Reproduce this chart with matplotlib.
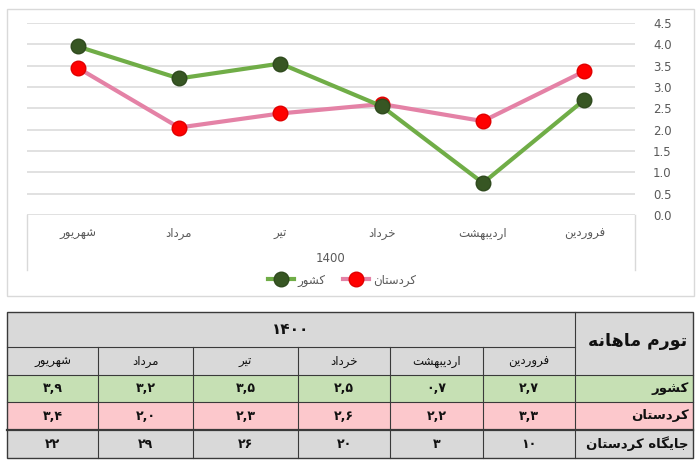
import matplotlib
matplotlib.use("Agg")
import matplotlib.pyplot as plt
from matplotlib.patches import Rectangle
from matplotlib.lines import Line2D

# Datos: meses de 1400 (de izquierda a derecha como en el grafico)
meses = ["شهریور", "مرداد", "تیر", "خرداد", "اردیبهشت", "فروردین"]
keshvar = [3.95, 3.2, 3.55, 2.55, 0.75, 2.7]
kordestan = [3.45, 2.05, 2.38, 2.6, 2.2, 3.37]

# Valores de la tabla (tal como aparecen)
tabla_keshvar = ["۳,۹", "۳,۲", "۳,۵", "۲,۵", "۰,۷", "۲,۷"]
tabla_kordestan = ["۳,۴", "۲,۰", "۲,۳", "۲,۶", "۲,۲", "۳,۳"]
tabla_jaygah = ["۲۲", "۲۹", "۲۶", "۲۰", "۳", "۱۰"]

anio = "1400"
anio_fa = "۱۴۰۰"
nombre_keshvar = "کشور"
nombre_kordestan = "کردستان"
nombre_jaygah = "جایگاه کردستان"
titulo_tabla = "تورم ماهانه"

# Formas de presentacion arabes: aislada, final, inicial, medial
FORMAS = {
    "ا": ("\uFE8D", "\uFE8E", None, None),
    "ب": ("\uFE8F", "\uFE90", "\uFE91", "\uFE92"),
    "ت": ("\uFE95", "\uFE96", "\uFE97", "\uFE98"),
    "ج": ("\uFE9D", "\uFE9E", "\uFE9F", "\uFEA0"),
    "خ": ("\uFEA5", "\uFEA6", "\uFEA7", "\uFEA8"),
    "د": ("\uFEA9", "\uFEAA", None, None),
    "ر": ("\uFEAD", "\uFEAE", None, None),
    "س": ("\uFEB1", "\uFEB2", "\uFEB3", "\uFEB4"),
    "ش": ("\uFEB5", "\uFEB6", "\uFEB7", "\uFEB8"),
    "ف": ("\uFED1", "\uFED2", "\uFED3", "\uFED4"),
    "م": ("\uFEE1", "\uFEE2", "\uFEE3", "\uFEE4"),
    "ن": ("\uFEE5", "\uFEE6", "\uFEE7", "\uFEE8"),
    "ه": ("\uFEE9", "\uFEEA", "\uFEEB", "\uFEEC"),
    "و": ("\uFEED", "\uFEEE", None, None),
    "ک": ("\uFB8E", "\uFB8F", "\uFB90", "\uFB91"),
    "گ": ("\uFB92", "\uFB93", "\uFB94", "\uFB95"),
    "ی": ("\uFBFC", "\uFBFD", "\uFBFE", "\uFBFF"),
}


def une_siguiente(c):
    return c in FORMAS and FORMAS[c][2] is not None


def fa(texto):
    """Dar forma al texto persa y ponerlo de derecha a izquierda"""
    salida = []
    n = len(texto)
    for i, c in enumerate(texto):
        if c not in FORMAS:
            salida.append(c)
            continue
        prev = texto[i - 1] if i > 0 else ""
        sig = texto[i + 1] if i < n - 1 else ""
        con_prev = une_siguiente(prev)
        con_sig = une_siguiente(c) and sig in FORMAS
        iso, fin, ini, med = FORMAS[c]
        if con_prev and con_sig:
            salida.append(med)
        elif con_prev:
            salida.append(fin)
        elif con_sig:
            salida.append(ini)
        else:
            salida.append(iso)
    return "".join(reversed(salida))


plt.rcParams["font.family"] = ["DejaVu Sans"]
gris_texto = "#595959"

fig = plt.figure(figsize=(7, 4.66), dpi=100)

# Capa de fondo en pixeles para marco y tabla
fondo = fig.add_axes([0, 0, 1, 1])
fondo.set_xlim(0, 700)
fondo.set_ylim(466, 0)
fondo.axis("off")

# Marco del grafico
fondo.add_patch(Rectangle((7, 9), 687, 287, fill=False, edgecolor="#d9d9d9", lw=1))

# Grafico de lineas
ax = fig.add_axes([27 / 700, 1 - 215 / 466, (635 - 27) / 700, (215 - 23) / 466])
x = list(range(len(meses)))
ax.plot(x, kordestan, color="#e482a6", lw=3, marker="o", markersize=10.5,
        markerfacecolor="#ff0000", markeredgecolor="#e00000", zorder=3)
ax.plot(x, keshvar, color="#70ad47", lw=3, marker="o", markersize=10.5,
        markerfacecolor="#375623", markeredgecolor="#2f4a1e", zorder=4)
ax.set_xlim(-0.5, len(meses) - 0.5)
ax.set_ylim(0, 4.5)
ax.set_yticks([i * 0.5 for i in range(10)])
ax.set_yticklabels([f"{i * 0.5:.1f}" for i in range(10)])
ax.yaxis.tick_right()
ax.tick_params(axis="y", length=0, pad=13, labelsize=8.5, labelcolor=gris_texto)
ax.set_xticks(x)
ax.set_xticklabels([fa(m) for m in meses])
ax.tick_params(axis="x", length=0, pad=9, labelsize=8.5, labelcolor=gris_texto)
ax.grid(axis="y", color="#dcdcdc", lw=1.2)
ax.set_axisbelow(True)
for s in ax.spines.values():
    s.set_visible(False)
ax.set_xlabel(anio, fontsize=8.5, color=gris_texto, labelpad=8)

# Caja del eje de categorias
for xb in (0, 1):
    ax.add_line(Line2D([xb, xb], [0, -55 / 192], transform=ax.transAxes,
                       color="#d9d9d9", lw=1, clip_on=False))

leg = fig.legend(
    handles=[
        Line2D([], [], color="#70ad47", lw=3, marker="o", markersize=10.5,
               markerfacecolor="#375623", markeredgecolor="#2f4a1e"),
        Line2D([], [], color="#e482a6", lw=3, marker="o", markersize=10.5,
               markerfacecolor="#ff0000", markeredgecolor="#e00000"),
    ],
    labels=[fa(nombre_keshvar), fa(nombre_kordestan)],
    loc="center", bbox_to_anchor=(342 / 700, 1 - 280 / 466), ncol=2,
    frameon=False, fontsize=8.5, handlelength=2.2, columnspacing=1.5,
    handletextpad=0.3,
)
for t in leg.get_texts():
    t.set_color(gris_texto)

# Tabla
bordes_x = [7, 98, 193, 298, 390, 483, 575, 693]
bordes_y = [312, 347, 375, 402, 430, 458]
col_header = "#d9d9d9"
filas = [
    (tabla_keshvar, nombre_keshvar, "#c6e0b4"),
    (tabla_kordestan, nombre_kordestan, "#fcc8cc"),
    (tabla_jaygah, nombre_jaygah, "#d9d9d9"),
]

# cabecera
fondo.add_patch(Rectangle((bordes_x[0], bordes_y[0]), bordes_x[-1] - bordes_x[0],
                          bordes_y[2] - bordes_y[0], facecolor=col_header,
                          edgecolor="none"))
for r, (vals, nombre, color) in enumerate(filas):
    y0 = bordes_y[r + 2]
    fondo.add_patch(Rectangle((bordes_x[0], y0), bordes_x[-1] - bordes_x[0],
                              bordes_y[r + 3] - y0, facecolor=color, edgecolor="none"))

borde = "#3a3a3a"
fondo.add_patch(Rectangle((bordes_x[0], bordes_y[0]), bordes_x[-1] - bordes_x[0],
                          bordes_y[-1] - bordes_y[0], fill=False, edgecolor=borde, lw=1))
fondo.plot([bordes_x[0], bordes_x[6]], [bordes_y[1]] * 2, color=borde, lw=0.8)
for yy in bordes_y[2:5]:
    fondo.plot([bordes_x[0], bordes_x[-1]], [yy, yy], color=borde,
               lw=1.6 if yy == bordes_y[4] else 0.8)
fondo.plot([bordes_x[6]] * 2, [bordes_y[0], bordes_y[-1]], color=borde, lw=0.8)
for xx in bordes_x[1:6]:
    fondo.plot([xx, xx], [bordes_y[1], bordes_y[-1]], color=borde, lw=0.8)

fondo.text((bordes_x[0] + bordes_x[6]) / 2, (bordes_y[0] + bordes_y[1]) / 2, anio_fa,
           ha="center", va="center", fontsize=11, fontweight="bold", color="#111111")
fondo.text(bordes_x[-1] - 6, (bordes_y[0] + bordes_y[2]) / 2 - 2, fa(titulo_tabla),
           ha="right", va="center", fontsize=12.5, fontweight="bold", color="#111111")

for j, m in enumerate(meses):
    cx = (bordes_x[j] + bordes_x[j + 1]) / 2
    fondo.text(cx, (bordes_y[1] + bordes_y[2]) / 2, fa(m), ha="center", va="center",
               fontsize=8.5, color="#111111")
    for r, (vals, nombre, color) in enumerate(filas):
        fondo.text(cx, (bordes_y[r + 2] + bordes_y[r + 3]) / 2, vals[j], ha="center",
                   va="center", fontsize=9, fontweight="bold", color="#111111")

for r, (vals, nombre, color) in enumerate(filas):
    fondo.text(bordes_x[-1] - 4, (bordes_y[r + 2] + bordes_y[r + 3]) / 2, fa(nombre),
               ha="right", va="center", fontsize=9.5, fontweight="bold", color="#111111")

fig.savefig("out.png", dpi=100)
